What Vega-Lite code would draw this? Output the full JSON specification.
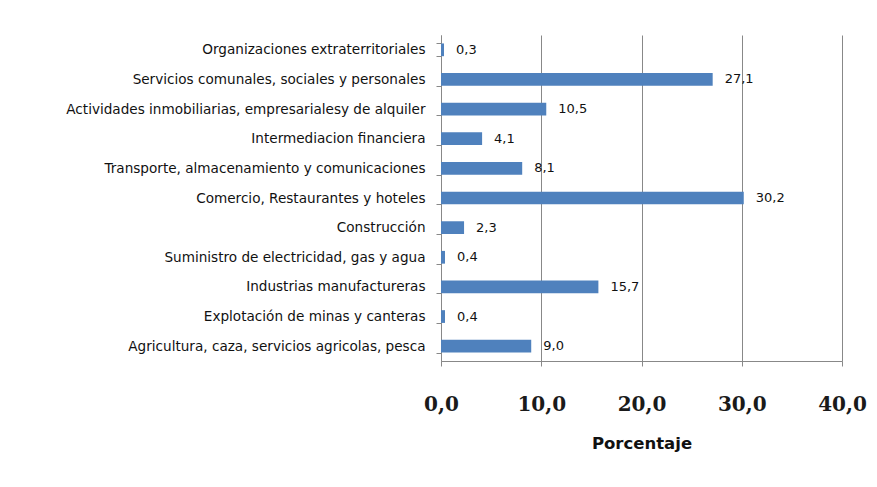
{
  "$schema": "https://vega.github.io/schema/vega-lite/v6.json",
  "width": 401,
  "height": 326,
  "autosize": {"type": "none"},
  "padding": {"left": 441, "top": 35, "right": 35, "bottom": 126},
  "background": "white",
  "config": {
    "locale": {"number": {"decimal": ",", "thousands": ".", "grouping": [3], "currency": ["", ""]}},
    "view": {"stroke": null}
  },
  "data": {
    "values": [
      {"sector": "Organizaciones extraterritoriales", "valor": 0.3},
      {"sector": "Servicios comunales, sociales y personales", "valor": 27.1},
      {"sector": "Actividades inmobiliarias, empresarialesy de alquiler", "valor": 10.5},
      {"sector": "Intermediacion financiera", "valor": 4.1},
      {"sector": "Transporte, almacenamiento y comunicaciones", "valor": 8.1},
      {"sector": "Comercio, Restaurantes y hoteles", "valor": 30.2},
      {"sector": "Construcción", "valor": 2.3},
      {"sector": "Suministro de electricidad, gas y agua", "valor": 0.4},
      {"sector": "Industrias manufactureras", "valor": 15.7},
      {"sector": "Explotación de minas y canteras", "valor": 0.4},
      {"sector": "Agricultura, caza, servicios agricolas, pesca", "valor": 9.0}
    ]
  },
  "encoding": {
    "y": {
      "field": "sector",
      "type": "nominal",
      "sort": null,
      "scale": {"paddingInner": 0.57, "paddingOuter": 0.285},
      "axis": {
        "title": null,
        "tickBand": "extent",
        "tickSize": 5,
        "tickColor": "#888888",
        "domainColor": "#888888",
        "labelPadding": 11,
        "labelFont": "DejaVu Sans",
        "labelFontSize": 13.6,
        "labelColor": "#111111",
        "labelLimit": 500,
        "grid": false
      }
    },
    "x": {
      "field": "valor",
      "type": "quantitative",
      "scale": {"domain": [0, 40], "nice": false},
      "axis": {
        "values": [0, 10, 20, 30, 40],
        "format": ".1f",
        "title": "Porcentaje",
        "titleFont": "DejaVu Sans",
        "titleFontSize": 16.5,
        "titleFontWeight": "bold",
        "titleColor": "#111111",
        "titlePadding": 21,
        "labelFont": "DejaVu Serif",
        "labelFontSize": 20,
        "labelFontWeight": "bold",
        "labelColor": "#1a1a1a",
        "labelPadding": 28,
        "labelFlush": false,
        "labelAlign": "center",
        "labelOverlap": false,
        "tickSize": 5,
        "tickColor": "#888888",
        "domainColor": "#888888",
        "grid": true,
        "gridColor": "#888888",
        "gridWidth": 1
      }
    }
  },
  "layer": [
    {"mark": {"type": "bar", "color": "#4F81BD"}},
    {
      "mark": {"type": "text", "align": "left", "baseline": "middle", "dx": 12, "font": "DejaVu Sans", "fontSize": 13, "color": "#111111"},
      "encoding": {"text": {"field": "valor", "type": "quantitative", "format": ".1f"}}
    }
  ]
}
